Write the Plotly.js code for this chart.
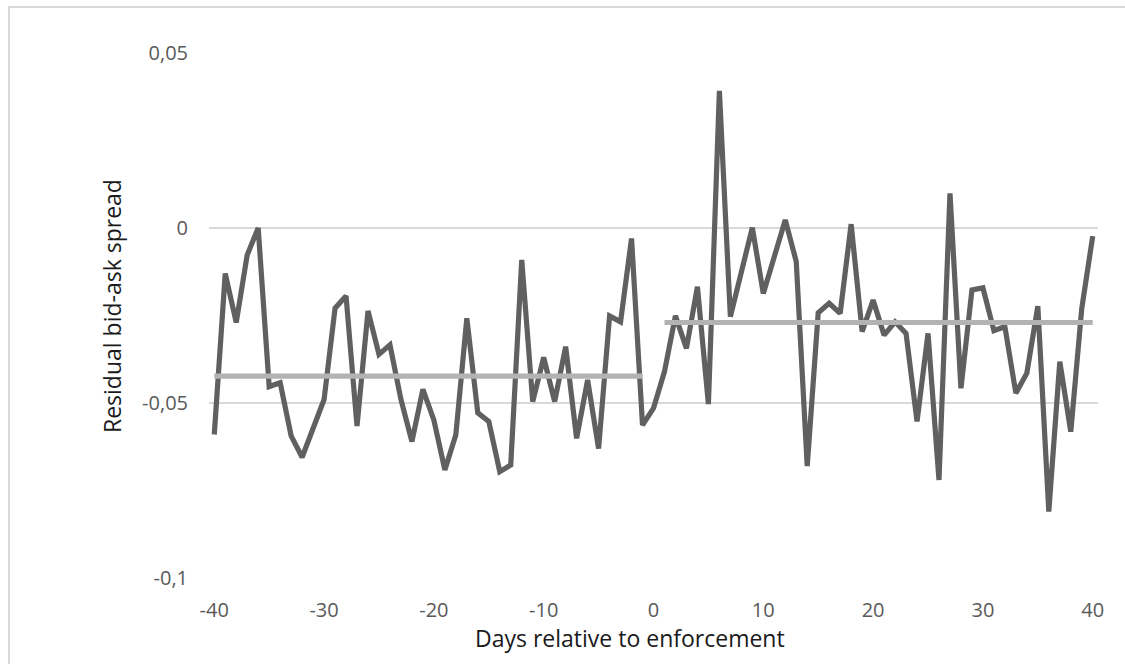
<!DOCTYPE html>
<html>
<head>
<meta charset="utf-8">
<script src="https://cdn.plot.ly/plotly-3.0.1.min.js"></script>
<style>
  html, body { margin: 0; padding: 0; background: #ffffff; }
  #frame { position: absolute; left: 8px; top: 6px; width: 1200px; height: 700px; border: 2px solid #d9d9d9; box-sizing: border-box; }
  #chart { position: absolute; left: 0; top: 0; width: 1125px; height: 664px; }
</style>
</head>
<body>
<div id="frame"></div>
<div id="chart"></div>
<script>
const days = [];
for (let d = -40; d <= 40; d++) days.push(d);

const spread = [
  -0.059, -0.013, -0.027, -0.0077, 0.0, -0.0453, -0.0442, -0.0594, -0.0655, -0.057,
  -0.049, -0.0229, -0.0194, -0.0566, -0.0237, -0.0361, -0.0334, -0.049, -0.061, -0.0461,
  -0.0549, -0.0691, -0.0591, -0.0258, -0.0528, -0.0553, -0.0696, -0.0677, -0.0091, -0.0496,
  -0.037, -0.0496, -0.0339, -0.0601, -0.0434, -0.063, -0.0251, -0.0268, -0.003, -0.0563,
  -0.0515,
  -0.041, -0.0251, -0.0344, -0.0168, -0.0503, 0.0392, -0.0253, -0.013, 0.0001, -0.0187,
  -0.0085, 0.0023, -0.0096, -0.068, -0.0242, -0.0215, -0.0244, 0.0011, -0.0296, -0.0206,
  -0.0306, -0.0268, -0.0301, -0.0553, -0.0301, -0.072, 0.0099, -0.0458, -0.0177, -0.0171,
  -0.0293, -0.0282, -0.0472, -0.0415, -0.0223, -0.081, -0.0382, -0.0582, -0.023, -0.0023
];

const preMeanX = [-40, -1];
const preMeanY = [-0.0423, -0.0423];
const postMeanX = [1, 40];
const postMeanY = [-0.027, -0.027];

const xTickVals = [-40, -30, -20, -10, 0, 10, 20, 30, 40];
const xTickText = ['-40', '-30', '-20', '-10', '0', '10', '20', '30', '40'];
const yTickVals = [0.05, 0, -0.05, -0.1];
const yTickText = ['0,05', '0', '-0,05', '-0,1'];

const traces = [
  { x: days, y: spread, type: 'scatter', mode: 'lines',
    line: { color: '#606060', width: 5.2 }, hoverinfo: 'x+y', name: 'Residual' },
  { x: preMeanX, y: preMeanY, type: 'scatter', mode: 'lines',
    line: { color: '#b3b3b3', width: 5.2 }, name: 'Pre mean' },
  { x: postMeanX, y: postMeanY, type: 'scatter', mode: 'lines',
    line: { color: '#b3b3b3', width: 5.2 }, name: 'Post mean' }
];

const tickFont = { family: 'Open Sans, sans-serif', size: 20, color: '#595959' };
const titleFont = { family: 'Open Sans, sans-serif', size: 23, color: '#1a1a1a' };

const layout = {
  width: 1125, height: 664,
  margin: { l: 209, r: 27, t: 53, b: 86 },
  paper_bgcolor: 'rgba(0,0,0,0)',
  plot_bgcolor: 'rgba(0,0,0,0)',
  showlegend: false,
  xaxis: {
    range: [-40.48, 40.48],
    tickvals: xTickVals, ticktext: xTickText,
    showgrid: false, zeroline: false, showline: false,
    ticks: '', ticklabelstandoff: 18,
    tickfont: tickFont
  },
  yaxis: {
    range: [-0.1, 0.05],
    tickvals: yTickVals, ticktext: yTickText,
    showgrid: true, gridcolor: '#d9d9d9', gridwidth: 1.5,
    zeroline: false, showline: false,
    ticks: '', ticklabelstandoff: 20,
    tickfont: tickFont
  },
  annotations: [
    { text: 'Days relative to enforcement', xref: 'paper', yref: 'paper',
      x: 0.4736, y: -0.114, xanchor: 'center', yanchor: 'middle',
      showarrow: false, font: titleFont },
    { text: 'Residual bid-ask spread', xref: 'paper', yref: 'paper',
      x: -0.1091, y: 0.518, xanchor: 'center', yanchor: 'middle', textangle: -90,
      showarrow: false, font: titleFont }
  ]
};

Plotly.newPlot('chart', traces, layout, { displayModeBar: false, staticPlot: true });
</script>
</body>
</html>
